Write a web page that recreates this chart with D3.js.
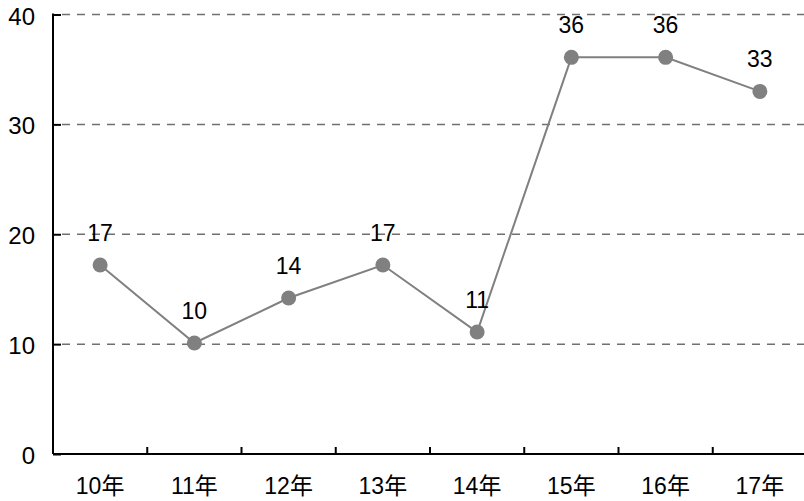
<!DOCTYPE html>
<html>
<head>
<meta charset="utf-8">
<script src="https://cdn.jsdelivr.net/npm/d3@7"></script>
<style>
  body { margin: 0; background: #fff; }
  text { font-family: "Liberation Sans", Arial, "Noto Sans CJK SC", sans-serif; }
</style>
</head>
<body>
<div id="chart"></div>
<script>
const categories = ["10年", "11年", "12年", "13年", "14年", "15年", "16年", "17年"];
const values = [17.2, 10.1, 14.2, 17.2, 11.1, 36.1, 36.1, 33.0];
const yTicks = [0, 10, 20, 30, 40];

const width = 804;
const height = 501;

const svg = d3
  .select("#chart")
  .append("svg")
  .attr("width", width)
  .attr("height", height);

const x = d3.scaleBand().domain(categories).range([53, 807]);
const y = d3.scaleLinear().domain([0, 40]).range([454, 14.5]);

// dashed gridlines
svg
  .append("g")
  .selectAll("line")
  .data(yTicks.filter((d) => d > 0))
  .enter()
  .append("line")
  .attr("x1", 62)
  .attr("x2", width)
  .attr("y1", (d) => y(d))
  .attr("y2", (d) => y(d))
  .attr("stroke", "#707070")
  .attr("stroke-width", 1.5)
  .attr("stroke-dasharray", "8,7");

// y axis
const yAxis = d3.axisRight(y).tickValues(yTicks).tickSize(8).tickFormat("");
const gy = svg.append("g").attr("transform", "translate(53,0)").call(yAxis);
gy.select(".domain").remove();
gy.selectAll(".tick line").attr("stroke", "#000").attr("stroke-width", 2);
svg
  .append("line")
  .attr("x1", 53)
  .attr("x2", 53)
  .attr("y1", y(40) - 1)
  .attr("y2", y(0))
  .attr("stroke", "#000")
  .attr("stroke-width", 2);

svg
  .append("g")
  .selectAll("text")
  .data(yTicks)
  .enter()
  .append("text")
  .attr("x", 35)
  .attr("y", (d) => y(d) + 10)
  .attr("text-anchor", "end")
  .attr("font-size", 24)
  .attr("fill", "#000")
  .text((d) => d);

// x axis
const boundaries = categories.slice(1).map((c) => x(c));
svg
  .append("line")
  .attr("x1", 53)
  .attr("x2", width)
  .attr("y1", y(0))
  .attr("y2", y(0))
  .attr("stroke", "#000")
  .attr("stroke-width", 2);
svg
  .append("g")
  .selectAll("line")
  .data(boundaries)
  .enter()
  .append("line")
  .attr("x1", (d) => d)
  .attr("x2", (d) => d)
  .attr("y1", y(0))
  .attr("y2", y(0) - 7)
  .attr("stroke", "#000")
  .attr("stroke-width", 2);

svg
  .append("g")
  .selectAll("text")
  .data(categories)
  .enter()
  .append("text")
  .attr("x", (d) => x(d) + x.bandwidth() / 2)
  .attr("y", 494)
  .attr("text-anchor", "middle")
  .attr("font-size", 23)
  .attr("fill", "#000")
  .text((d) => d);

// line
const line = d3
  .line()
  .x((d, i) => x(categories[i]) + x.bandwidth() / 2)
  .y((d) => y(d));

svg
  .append("path")
  .datum(values)
  .attr("d", line)
  .attr("fill", "none")
  .attr("stroke", "#808080")
  .attr("stroke-width", 2);

svg
  .append("g")
  .selectAll("circle")
  .data(values)
  .enter()
  .append("circle")
  .attr("cx", (d, i) => x(categories[i]) + x.bandwidth() / 2)
  .attr("cy", (d) => y(d))
  .attr("r", 7.5)
  .attr("fill", "#808080");

svg
  .append("g")
  .selectAll("text")
  .data(values)
  .enter()
  .append("text")
  .attr("x", (d, i) => x(categories[i]) + x.bandwidth() / 2)
  .attr("y", (d) => y(d) - 24)
  .attr("text-anchor", "middle")
  .attr("font-size", 23)
  .attr("fill", "#000")
  .text((d) => d3.format(".0f")(d));
</script>
</body>
</html>
